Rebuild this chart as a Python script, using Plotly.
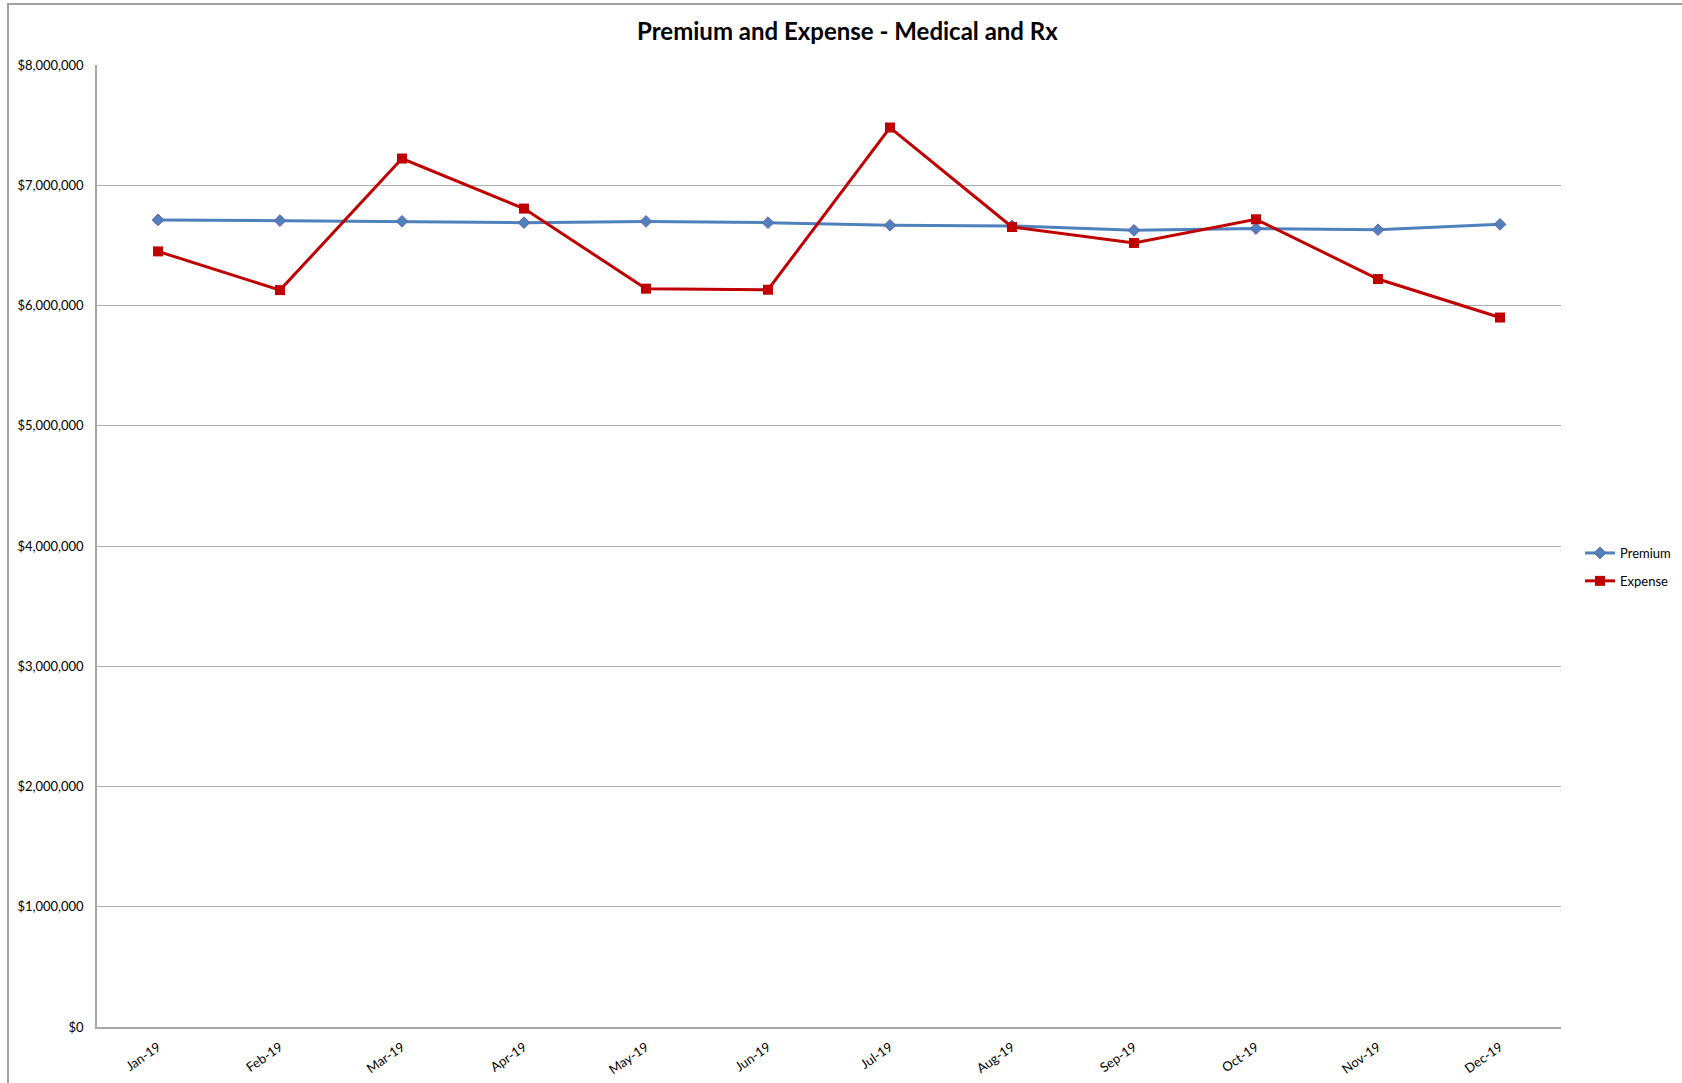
import plotly.graph_objects as go

months = ["Jan-19", "Feb-19", "Mar-19", "Apr-19", "May-19", "Jun-19",
          "Jul-19", "Aug-19", "Sep-19", "Oct-19", "Nov-19", "Dec-19"]
premium = [6712000, 6706000, 6700000, 6689000, 6699000, 6689000,
           6667000, 6662000, 6625000, 6640000, 6630000, 6675000]
expense = [6450000, 6128000, 7222000, 6806000, 6140000, 6131000,
           7480000, 6653000, 6520000, 6717000, 6220000, 5900000]
y_ticks = [0, 1000000, 2000000, 3000000, 4000000, 5000000, 6000000, 7000000, 8000000]
y_labels = ["${:,.0f}".format(v) for v in y_ticks]

W, H = 1682, 1083
L, R, T, B = 97, 121, 65, 56
pw, ph = W - L - R, H - T - B

fig = go.Figure()
fig.add_trace(go.Scatter(
    x=months, y=premium, name="Premium", mode="lines+markers",
    legendgroup="p",
    line=dict(color="#4F81BD", width=3),
    marker=dict(symbol="diamond", size=9, color="#4F81BD",
                line=dict(color="#6A5FA8", width=1)),
))
fig.add_trace(go.Scatter(
    x=months, y=expense, name="Expense", mode="lines+markers",
    legendgroup="e",
    line=dict(color="#C00000", width=3),
    marker=dict(symbol="square", size=10, color="#C00000"),
))

font_family = "Lato, 'Open Sans', sans-serif"

fig.update_layout(
    width=W, height=H,
    margin=dict(l=L, r=R, t=T, b=B, autoexpand=False),
    paper_bgcolor="white", plot_bgcolor="white",
    font=dict(family=font_family, size=13, color="#000000"),
    title=dict(text="<b>Premium and Expense - Medical and Rx</b>",
               x=(790 * 1682 / 1568) / W, xanchor="center",
               y=1 - 32 / H, yanchor="middle",
               font=dict(size=24, family=font_family, color="#000000")),
    showlegend=True,
    legend=dict(x=(1580 - L) / pw, xanchor="left",
                y=(H - B - 567) / ph, yanchor="middle",
                font=dict(size=13, family=font_family),
                traceorder="grouped", tracegroupgap=8,
                bgcolor="rgba(0,0,0,0)"),
    xaxis=dict(type="category", range=[-0.5, 11.5], tickangle=-35,
               showgrid=False, showline=True, linecolor="#A6A6A6", linewidth=1.5,
               ticks="", ticklabelstandoff=6, tickfont=dict(size=13),
               zeroline=False),
    yaxis=dict(range=[0, 8000000], tickvals=y_ticks, ticktext=y_labels,
               showgrid=True, gridcolor="#ADADAD", gridwidth=1.2,
               showline=True, linecolor="#A6A6A6", linewidth=1.5,
               ticks="", ticklabelstandoff=9, tickfont=dict(size=13),
               zeroline=False),
)

# chart frame
fig.add_shape(type="rect", xref="paper", yref="paper",
              x0=(8 - L) / pw, x1=(W + 20 - L) / pw,
              y0=(H - B - (H + 20)) / ph, y1=1 + (T - 4) / ph,
              line=dict(color="#A0A0A0", width=2), layer="below")

fig.write_html("out.html")
